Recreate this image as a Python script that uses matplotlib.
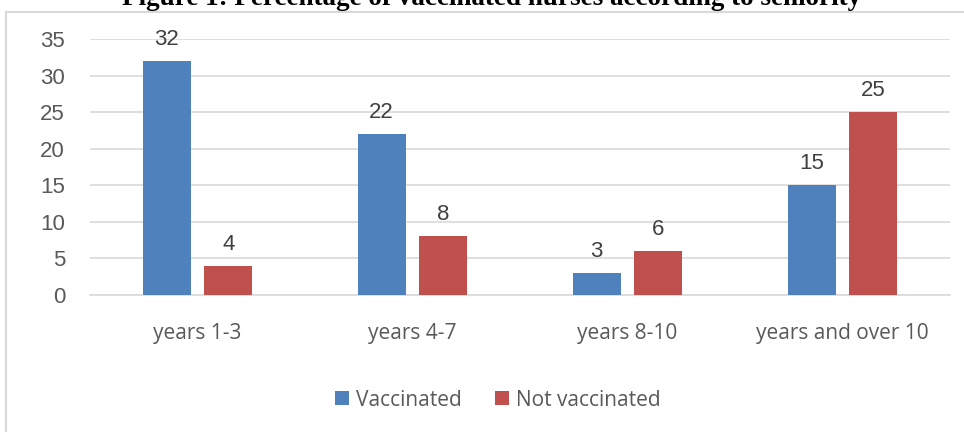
import matplotlib
matplotlib.use("Agg")
import matplotlib.pyplot as plt
from matplotlib.patches import Rectangle
import numpy as np

categories = ["years 1-3", "years 4-7", "years 8-10", "years and over 10"]
vaccinated = [32, 22, 3, 15]
not_vaccinated = [4, 8, 6, 25]
series_names = ["Vaccinated", "Not vaccinated"]
yticks = [0, 5, 10, 15, 20, 25, 30, 35]
title = "Figure 1: Percentage of vaccinated nurses according to seniority"

blue = "#4f81bd"
red = "#c0504d"
txt = "#595959"

fig = plt.figure(figsize=(9.64, 4.32), dpi=100)
W, H = 964, 432
ax = fig.add_axes([90 / W, 1 - 295 / H, 860 / W, 256 / H])

x = np.arange(len(categories))
bw = 0.223
off = 0.144
b1 = ax.bar(x - off, vaccinated, bw, color=blue, label=series_names[0], zorder=3)
b2 = ax.bar(x + off, not_vaccinated, bw, color=red, label=series_names[1], zorder=3)

for bars in (b1, b2):
    for r in bars:
        ax.annotate(f"{int(r.get_height())}", (r.get_x() + r.get_width() / 2, r.get_height()),
                    xytext=(0, 8), textcoords="offset points", ha="center", va="bottom",
                    fontsize=16, color="#404040", family="Liberation Sans")

ax.set_xlim(-0.5, 3.5)
ax.set_ylim(0, 35)
ax.set_yticks(yticks)
ax.set_yticklabels([str(v) for v in yticks], family="Liberation Sans", fontsize=16, color=txt)
ax.set_xticks(x)
ax.set_xticklabels(categories, family="Open Sans", fontsize=15, color=txt)
ax.tick_params(axis="both", length=0)
ax.tick_params(axis="y", pad=18)
ax.tick_params(axis="x", pad=20)
ax.grid(axis="y", color="#d9d9d9", linewidth=1.2, zorder=0)
for s in ["left", "right", "top"]:
    ax.spines[s].set_visible(False)
ax.spines["bottom"].set_color("#d9d9d9")
ax.spines["bottom"].set_linewidth(1.2)

leg = fig.legend(handles=[b1, b2], labels=series_names, loc="center", bbox_to_anchor=(498 / W, 1 - 400 / H),
                 ncol=2, frameon=False, prop={"family": "Open Sans", "size": 15},
                 handlelength=0.67, handleheight=0.67, handletextpad=0.35, columnspacing=1.6)
for t in leg.get_texts():
    t.set_color(txt)

fig.patches.append(Rectangle((5.5 / W, -0.1), 1.2, 1.1 - 11.5 / H, transform=fig.transFigure,
                             fill=False, edgecolor="#d9d9d9", linewidth=1.5))

fig.text(492 / W, 1 - 5 / H, title, ha="center", va="baseline", family="Liberation Serif",
         fontweight="bold", fontsize=19.5, color="black")

fig.savefig("out.png", dpi=100)
